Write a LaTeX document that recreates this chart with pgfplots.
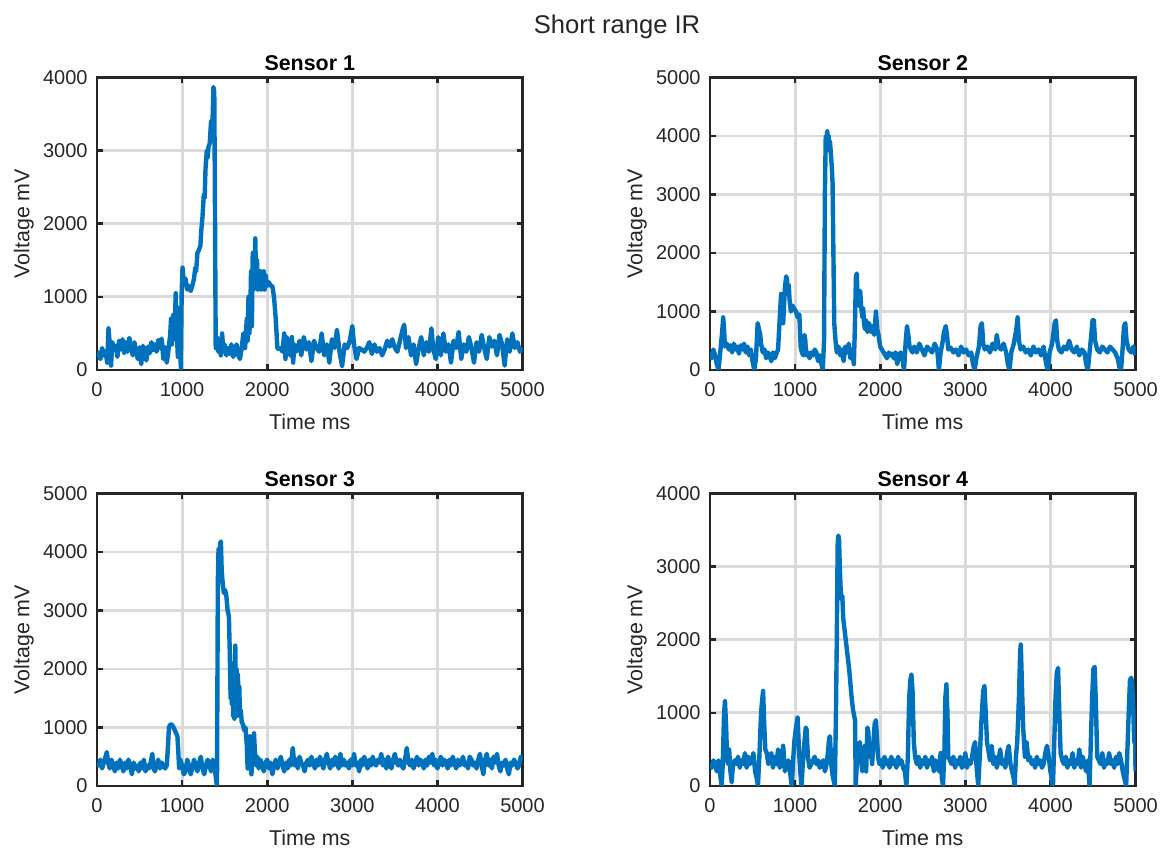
\documentclass[border=0pt]{standalone}
\usepackage{fontspec}
\setmainfont{Liberation Sans}
\usepackage{pgfplots}
\usepackage{pgfplotstable}
\pgfplotsset{compat=1.18}
\definecolor{mblue}{RGB}{0,114,189}
\definecolor{axcol}{RGB}{38,38,38}
\definecolor{gridcol}{RGB}{218,218,218}

\pgfplotstableread{
t v
0 250
20 220
40 150
60 300
80 200
100 260
120 100
135 570
150 350
165 60
180 380
200 300
220 330
240 180
260 400
280 280
300 420
320 230
340 380
360 250
380 440
400 310
420 200
440 380
460 240
480 150
500 310
520 80
540 330
560 250
580 130
600 320
620 230
640 380
660 270
680 350
700 250
720 410
740 300
760 430
780 150
800 310
820 100
840 280
860 480
870 700
880 350
895 750
910 420
925 1050
935 600
950 180
960 850
975 500
985 0
995 1050
1005 1400
1020 1200
1040 1250
1060 1100
1080 1150
1100 1080
1120 1150
1140 1250
1155 1400
1165 1350
1180 1600
1200 1650
1215 1700
1225 1900
1240 2100
1255 2400
1265 2350
1275 2750
1290 3000
1300 2900
1310 3050
1325 3100
1340 3400
1350 3200
1360 3500
1368 3870
1378 3800
1385 2500
1395 300
1410 450
1425 250
1440 350
1455 200
1470 500
1485 250
1500 350
1520 200
1540 300
1560 220
1580 350
1600 180
1620 250
1640 350
1660 200
1680 150
1700 300
1720 500
1740 300
1760 700
1770 400
1780 1000
1790 500
1800 700
1810 1350
1820 600
1830 1600
1840 1100
1850 1300
1860 1800
1870 1250
1880 1500
1890 1100
1900 1350
1910 1150
1920 1350
1930 1100
1940 1300
1950 1150
1960 1350
1970 1100
1980 1300
2000 1150
2020 1200
2040 1150
2060 1150
2080 1000
2100 700
2120 300
2140 280
2160 300
2180 250
2200 500
2215 150
2230 450
2250 300
2270 200
2290 450
2305 100
2320 350
2340 250
2360 300
2380 400
2400 200
2430 450
2460 280
2490 380
2520 120
2550 400
2580 300
2610 250
2640 500
2670 200
2700 350
2730 100
2760 420
2790 300
2820 550
2850 250
2880 50
2910 350
2940 300
2970 400
3000 600
3020 350
3050 150
3080 300
3110 280
3140 250
3170 300
3200 380
3230 220
3260 350
3290 250
3320 300
3350 200
3380 280
3410 400
3440 320
3470 420
3500 300
3530 250
3560 400
3590 550
3610 620
3630 300
3660 450
3690 200
3720 350
3750 80
3780 300
3810 450
3840 200
3870 380
3900 250
3930 570
3950 300
3980 150
4010 450
4040 200
4070 500
4100 250
4130 350
4160 100
4190 400
4220 300
4250 520
4280 150
4310 350
4340 250
4370 450
4400 300
4430 100
4460 380
4490 250
4520 480
4550 300
4580 150
4610 450
4640 320
4670 400
4700 200
4730 480
4760 350
4790 60
4820 420
4850 250
4880 500
4910 300
4940 380
4970 250
5000 300
}\sensorA

\pgfplotstableread{
t v
0 300
20 200
40 350
60 250
80 100
100 0
120 300
140 600
155 900
165 700
175 400
200 450
220 350
240 420
260 300
280 450
300 350
320 400
340 280
360 420
380 350
400 450
420 300
440 400
460 250
480 350
500 150
520 0
540 200
560 800
575 700
590 600
600 450
620 300
640 350
660 200
680 300
700 250
720 150
740 300
760 200
780 280
800 350
820 900
835 1300
845 1000
860 800
880 1400
895 1600
905 1550
915 1300
925 1450
935 1200
950 1000
970 1100
990 1050
1010 1000
1030 900
1050 950
1065 400
1080 300
1095 250
1110 600
1120 500
1130 250
1150 300
1170 200
1190 300
1210 250
1230 350
1250 300
1270 150
1290 250
1310 100
1325 0
1340 500
1350 3000
1360 4000
1370 3950
1378 4080
1386 3800
1394 4000
1402 3750
1410 3900
1420 3700
1430 3500
1440 3200
1450 2000
1460 800
1475 500
1490 300
1510 400
1530 250
1550 350
1570 150
1590 400
1610 300
1630 450
1650 200
1670 350
1690 100
1700 600
1715 1600
1725 1650
1735 1200
1745 1100
1755 1300
1765 1350
1775 1100
1790 900
1800 1050
1810 800
1820 700
1835 850
1850 650
1870 800
1890 650
1910 750
1930 600
1950 1000
1965 700
1980 600
2000 400
2020 350
2040 300
2060 250
2080 200
2100 300
2120 250
2140 280
2160 200
2180 300
2200 100
2220 250
2240 300
2260 200
2280 0
2300 500
2315 750
2330 600
2345 400
2360 350
2380 300
2400 400
2430 300
2460 450
2490 350
2520 250
2550 400
2580 350
2610 300
2640 450
2670 350
2690 0
2710 300
2730 450
2750 650
2770 750
2785 600
2800 350
2830 380
2860 300
2890 350
2920 250
2950 400
2980 300
3010 350
3040 250
3070 300
3090 100
3110 0
3130 200
3160 400
3180 750
3195 800
3210 450
3230 350
3260 400
3290 300
3320 450
3350 350
3370 600
3390 400
3420 350
3450 450
3480 300
3500 100
3520 0
3540 300
3570 450
3600 700
3615 900
3630 500
3650 350
3680 400
3710 300
3740 350
3770 250
3800 400
3830 300
3860 350
3890 250
3920 400
3950 100
3970 0
3990 300
4020 450
4050 800
4065 850
4080 500
4100 350
4130 300
4160 400
4190 350
4220 500
4250 350
4280 300
4310 400
4340 250
4370 350
4400 300
4420 100
4440 0
4460 300
4480 600
4495 850
4510 850
4525 500
4550 350
4580 300
4610 400
4640 350
4670 300
4700 400
4730 350
4760 300
4790 200
4810 50
4830 0
4850 400
4865 750
4880 800
4895 500
4920 350
4950 300
4975 400
5000 250
}\sensorB

\pgfplotstableread{
t v
0 400
20 350
40 450
60 300
80 400
100 500
115 580
130 400
150 300
170 450
190 350
210 250
230 400
250 300
270 450
290 350
310 250
330 400
350 300
370 450
390 350
410 200
430 400
450 300
470 350
490 250
510 400
530 300
550 450
570 250
590 350
610 300
630 400
650 550
665 300
680 250
700 350
720 450
740 300
760 400
780 350
800 300
820 350
835 700
845 1000
860 1050
880 1050
900 1000
915 950
930 900
945 850
955 600
965 300
980 450
1000 350
1020 200
1040 250
1060 450
1080 350
1100 200
1120 300
1140 450
1160 350
1180 250
1200 400
1220 500
1240 300
1260 200
1280 350
1300 450
1320 350
1340 250
1360 450
1380 350
1400 100
1410 0
1420 3500
1428 4050
1438 3900
1448 4150
1456 4180
1465 3700
1475 3500
1490 3300
1505 3350
1520 3250
1535 3000
1550 2900
1560 2300
1570 1500
1578 2100
1585 1400
1592 2000
1600 1200
1608 1800
1615 1150
1625 2400
1632 1300
1640 2000
1648 1200
1656 1900
1664 1300
1672 1700
1680 1200
1690 1300
1700 1100
1715 1050
1730 950
1745 1000
1760 700
1770 300
1780 700
1795 850
1805 400
1815 200
1830 500
1845 900
1855 600
1870 350
1885 500
1900 300
1920 450
1940 350
1960 250
1980 400
2000 450
2020 300
2040 400
2060 200
2080 350
2100 450
2120 300
2140 400
2160 500
2180 350
2200 250
2220 400
2240 300
2260 450
2280 350
2300 650
2320 350
2340 450
2360 300
2380 500
2400 400
2420 350
2440 250
2460 400
2480 450
2500 350
2520 500
2540 400
2560 300
2580 450
2600 350
2620 500
2640 400
2660 300
2680 450
2700 550
2720 400
2740 300
2760 450
2780 350
2800 500
2820 400
2840 300
2860 550
2880 350
2900 450
2920 350
2940 400
2960 300
2980 450
3000 350
3020 550
3040 350
3060 400
3080 250
3100 450
3120 350
3140 500
3160 400
3180 300
3200 450
3220 350
3240 500
3260 400
3280 350
3300 450
3320 400
3340 550
3360 350
3380 450
3400 300
3420 500
3440 400
3460 300
3480 450
3500 550
3520 400
3540 350
3560 450
3580 350
3600 300
3620 450
3640 650
3660 400
3680 350
3700 450
3720 300
3740 400
3760 500
3780 350
3800 450
3820 400
3840 300
3860 450
3880 350
3900 500
3920 400
3940 550
3960 350
3980 450
4000 300
4020 400
4040 500
4060 350
4080 450
4100 400
4120 300
4140 450
4160 350
4180 500
4200 400
4220 300
4240 450
4260 350
4280 400
4300 500
4320 350
4340 400
4360 300
4380 500
4400 450
4420 350
4440 400
4460 300
4480 450
4500 550
4520 350
4540 200
4560 450
4580 550
4600 350
4620 450
4640 300
4660 500
4680 400
4700 550
4720 350
4740 250
4760 400
4780 350
4800 450
4820 300
4840 200
4860 400
4880 350
4900 450
4920 400
4940 300
4960 350
4980 500
5000 450
}\sensorC

\pgfplotstableread{
t v
0 300
20 250
40 350
60 300
80 200
100 350
120 150
137 0
150 300
165 1000
176 1160
190 800
200 400
211 300
225 500
240 200
255 50
270 300
290 350
310 300
330 400
350 250
370 350
390 300
410 450
430 250
450 400
470 300
490 350
510 450
530 200
550 100
563 0
580 400
600 1000
615 1200
624 1300
635 900
650 500
667 450
685 300
700 350
720 450
740 250
760 400
780 300
800 500
820 250
840 350
860 550
880 200
900 300
920 350
940 200
960 0
975 300
990 600
1010 800
1030 940
1045 500
1060 200
1076 0
1090 300
1110 600
1125 800
1135 770
1150 400
1170 250
1190 300
1210 350
1230 400
1250 300
1270 350
1290 250
1310 300
1330 350
1350 200
1370 300
1385 450
1400 650
1410 680
1425 300
1440 150
1467 0
1480 1000
1490 2000
1500 3300
1508 3425
1516 3380
1525 3000
1535 2700
1545 2550
1555 2600
1565 2300
1575 2200
1585 2100
1595 2000
1605 1900
1620 1750
1635 1600
1650 1400
1665 1200
1680 1050
1695 950
1705 900
1712 0
1725 300
1740 500
1760 600
1775 350
1790 200
1805 400
1820 550
1835 200
1850 800
1860 750
1875 400
1890 550
1905 300
1920 600
1935 850
1950 900
1960 700
1975 400
1990 300
2010 350
2030 250
2050 400
2070 300
2090 350
2110 250
2130 400
2150 300
2170 350
2190 250
2210 400
2230 300
2250 350
2270 250
2290 200
2308 0
2325 400
2340 1200
2355 1450
2367 1525
2380 1300
2395 600
2410 400
2430 300
2450 400
2470 250
2490 350
2510 300
2530 400
2550 250
2570 350
2590 300
2610 400
2630 200
2650 350
2670 300
2690 200
2710 450
2725 100
2738 0
2755 500
2765 1200
2778 1390
2790 1000
2800 400
2820 350
2840 300
2860 400
2880 250
2900 350
2920 300
2940 400
2960 250
2980 300
3000 450
3020 250
3040 350
3060 300
3080 400
3100 550
3115 600
3130 300
3152 0
3170 400
3190 900
3210 1300
3225 1370
3240 1000
3255 600
3270 500
3290 350
3310 550
3330 300
3350 400
3370 250
3390 350
3410 500
3430 300
3450 350
3470 250
3490 450
3510 550
3530 300
3550 200
3570 100
3580 0
3595 400
3610 600
3630 1200
3645 1850
3652 1935
3665 1400
3680 800
3700 400
3720 600
3740 350
3760 400
3780 300
3800 350
3820 250
3840 400
3860 300
3880 350
3900 250
3920 300
3940 450
3960 550
3980 400
4000 200
4015 100
4030 0
4045 600
4060 1200
4075 1550
4090 1615
4105 1000
4120 450
4140 350
4160 300
4180 400
4200 250
4220 350
4240 300
4260 450
4280 250
4300 350
4320 300
4340 500
4360 250
4380 400
4400 300
4420 200
4440 350
4460 0
4475 600
4490 1200
4505 1600
4520 1630
4535 1100
4550 400
4570 350
4590 300
4610 450
4630 250
4650 350
4670 300
4690 450
4710 300
4730 350
4750 250
4770 400
4790 300
4810 450
4830 350
4850 200
4870 100
4890 0
4905 500
4920 1000
4935 1450
4950 1480
4960 1400
4970 1200
4985 600
4992 1000
5000 200
}\sensorD

\pgfplotsset{
  sig/.style={mblue, line width=2.2bp, line join=round, no markers},
  mstyle/.style={
    scale only axis,
    width=212.75bp, height=146.25bp,
    anchor=south west,
    xmin=0, xmax=5000, ymin=0,
    xtick={0,1000,2000,3000,4000,5000},
    grid=major,
    major grid style={gridcol, line width=1.4bp},
    axis line style={axcol, line width=1.3bp},
    every tick/.style={axcol, line width=1.3bp},
    major tick length=3bp,
    tick align=inside,
    scaled ticks=false,
    /pgf/number format/1000 sep={},
    /pgf/number format/assume math mode=true,
    tick label style={font=\fontsize{10bp}{12bp}\selectfont, text=axcol},
    xticklabel style={anchor=north, inner sep=0pt, yshift=-6.3bp},
    yticklabel style={anchor=east, inner sep=0pt, xshift=-4.5bp},
    xlabel={Time ms}, ylabel={Voltage mV},
    xlabel style={font=\fontsize{10.7bp}{12bp}\selectfont, text=axcol, at={(axis description cs:0.5,-0.178)}, anchor=center},
    ylabel style={font=\fontsize{10.7bp}{12bp}\selectfont, text=axcol, at={(axis description cs:-0.172,0.5)}, anchor=center, rotate=0},
    every axis title shift=0pt,
    title style={font=\bfseries\fontsize{10.7bp}{12bp}\selectfont, text=black, at={(axis description cs:0.5,1.048)}, anchor=center},
  }
}

\begin{document}
\begin{tikzpicture}
\path[use as bounding box] (0,0) rectangle (584bp,426bp);
\node[font=\fontsize{12.8bp}{14bp}\selectfont, text=axcol, anchor=base] at (308.5bp,409bp) {Short range IR};

\begin{axis}[mstyle, at={(48.5bp,241bp)}, ymax=4000, ytick={0,1000,2000,3000,4000}, title={Sensor 1}]
\addplot[sig] table[x=t,y=v] {\sensorA};
\end{axis}

\begin{axis}[mstyle, at={(355bp,241bp)}, ymax=5000, ytick={0,1000,2000,3000,4000,5000}, title={Sensor 2}]
\addplot[sig] table[x=t,y=v] {\sensorB};
\end{axis}

\begin{axis}[mstyle, at={(48.5bp,33bp)}, ymax=5000, ytick={0,1000,2000,3000,4000,5000}, title={Sensor 3}]
\addplot[sig] table[x=t,y=v] {\sensorC};
\end{axis}

\begin{axis}[mstyle, at={(355bp,33bp)}, ymax=4000, ytick={0,1000,2000,3000,4000}, title={Sensor 4}]
\addplot[sig] table[x=t,y=v] {\sensorD};
\end{axis}
\end{tikzpicture}
\end{document}
